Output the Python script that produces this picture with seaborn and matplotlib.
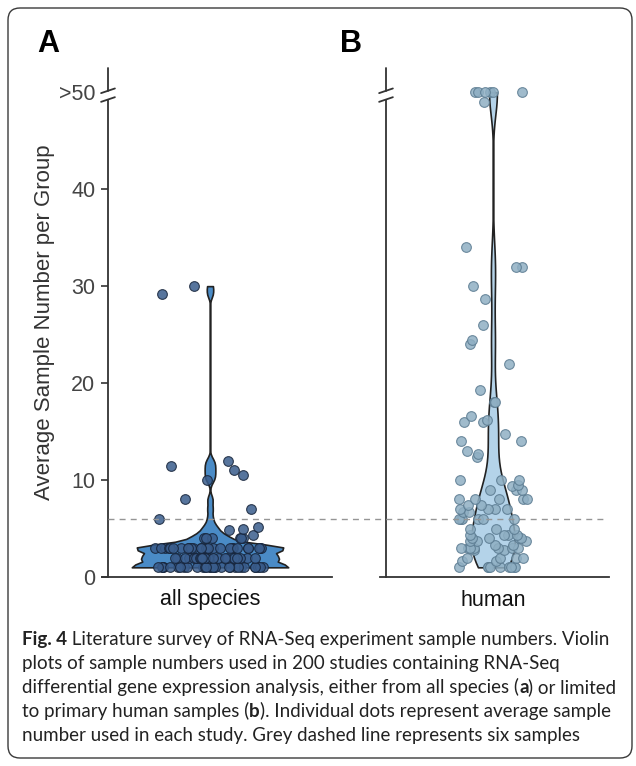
import numpy as np
import pandas as pd
import matplotlib
matplotlib.use("Agg")
import matplotlib.pyplot as plt
import matplotlib.transforms as mtransforms
from matplotlib.patches import FancyBboxPatch
from matplotlib.lines import Line2D
from matplotlib import font_manager
import seaborn as sns

# ---- data (values >50 are shown at the 50 break) ----
groups = ["all species", "human"]

a_values = [1, 2, 3, 4, 4.3, 4.8, 5, 5.2, 6, 7, 8, 10, 10.5, 11, 11.5, 12, 29.2, 30]
a_counts = [30, 24, 28, 6, 1, 1, 1, 1, 1, 1, 1, 1, 1, 1, 1, 1, 1, 1]

b_values = [1, 1.6, 2, 2.8, 3, 3.3, 3.7, 4, 4.3, 5, 6, 6.7, 7, 7.4, 8, 9, 9.4, 9.5,
            10, 12.4, 12.7, 13, 14, 14.8, 16, 16.2, 16.6, 18, 19.3, 22, 24, 24.4,
            26, 28.7, 30, 32, 34, 49, 50]
b_counts = [9, 2, 4, 2, 7, 2, 3, 4, 4, 3, 6, 2, 4, 2, 5, 3, 1, 1,
            3, 1, 1, 1, 2, 1, 2, 1, 1, 2, 1, 1, 1, 1,
            1, 1, 1, 2, 1, 1, 6]

y_ticks = [0, 10, 20, 30, 40, 50]
y_ticklabels = ["0", "10", "20", "30", "40", ">50"]
threshold = 6

violin_colors = ["#4a8bc6", "#b4d3e9"]
dot_colors = ["#3a5d8c", "#8fafc3"]
dot_edges = ["#16243a", "#5b7b91"]
violin_widths = [0.68, 0.19]
bw_adjusts = [0.25, 0.4]
jitters = [0.24, 0.15]

caption_lines = [
    [("Fig. 4", "bold"), (" Literature survey of RNA-Seq experiment sample numbers. Violin", "normal")],
    [("plots of sample numbers used in 200 studies containing RNA-Seq", "normal")],
    [("differential gene expression analysis, either from all species (", "normal"), ("a", "bold"),
     (") or limited", "normal")],
    [("to primary human samples (", "normal"), ("b", "bold"),
     ("). Individual dots represent average sample", "normal")],
    [("number used in each study. Grey dashed line represents six samples", "normal")],
]

df = pd.concat([
    pd.DataFrame({"group": groups[0], "value": np.repeat(a_values, a_counts)}),
    pd.DataFrame({"group": groups[1], "value": np.repeat(b_values, b_counts)}),
], ignore_index=True)

sns.set_theme(style="white")
plt.rcParams['font.family'] = ['Liberation Sans', 'DejaVu Sans']
np.random.seed(7)

W, H = 636, 766
fig = plt.figure(figsize=(W / 100, H / 100), dpi=100)
px = mtransforms.IdentityTransform()

# axes placed in pixels (left, right) measured on the reference
ax_pix = [(102, 332), (380, 609)]
centers = [210, 493]
spine_off = 6
y_top, y_bot = 68, 577
axes = []
for (l, r) in ax_pix:
    ax = fig.add_axes([l / W, (H - y_bot) / H, (r - l) / W, (y_bot - y_top) / H])
    ax.patch.set_visible(False)
    axes.append(ax)

for i, ax in enumerate(axes):
    sub = df[df["group"] == groups[i]]
    sns.violinplot(data=sub, x="group", y="value", ax=ax, color=violin_colors[i],
                   inner=None, cut=0, bw_adjust=bw_adjusts[i], density_norm="width",
                   width=violin_widths[i], linecolor="#222222", linewidth=1.2,
                   saturation=1)
    sns.stripplot(data=sub, x="group", y="value", ax=ax, color=dot_colors[i],
                  edgecolor=dot_edges[i], linewidth=0.8, size=7, alpha=0.85,
                  jitter=jitters[i], zorder=3)
    l, r = ax_pix[i]
    f = (centers[i] - l) / (r - l)
    ax.set_ylim(0, 52.5)
    ax.set_xlim(-f, 1 - f)
    ax.set_xlabel("")
    ax.set_ylabel("")
    for s in ["top", "right"]:
        ax.spines[s].set_visible(False)
    sf = spine_off / (r - l)
    ax.spines["left"].set_position(("axes", sf))
    ax.spines["left"].set_bounds(0, 49.25)
    for s in ["left", "bottom"]:
        ax.spines[s].set_color("#333333")
        ax.spines[s].set_linewidth(1.3)
    ax.tick_params(axis="x", length=0, pad=9, labelsize=15.5, labelcolor="#111111")

    # axis break on the left spine
    tr = mtransforms.blended_transform_factory(ax.transAxes, ax.transData)
    ax.plot([sf, sf], [50.15, 52.5], transform=tr, color="#333333", lw=1.3, clip_on=False)
    for yc in [50.15, 49.25]:
        ax.plot([sf - 0.03, sf + 0.03], [yc - 0.24, yc + 0.24], transform=tr,
                color="#333333", lw=1.3, clip_on=False)

axA, axB = axes
axA.set_yticks(y_ticks)
axA.set_yticklabels(y_ticklabels)
axA.tick_params(axis="y", left=True, length=5, width=1.2, color="#333333",
                labelsize=15.5, labelcolor="#444444", pad=4)
axA.set_ylabel("Average Sample Number per Group", fontsize=16, color="#333333", labelpad=3)
axA.yaxis.get_major_ticks()[-1].tick1line.set_visible(False)
axB.set_yticks(y_ticks)
axB.tick_params(axis="y", left=False, labelleft=False)

# grey dashed line at six samples across both panels
tr = mtransforms.blended_transform_factory(fig.transFigure, axA.transData)
fig.add_artist(Line2D([108 / W, 608 / W], [threshold, threshold], transform=tr,
                      color="#959595", lw=1.0, linestyle=(0, (4.3, 3.7)), zorder=5))

# panel letters
fig.text(37, H - 52, "A", transform=px, fontsize=22, fontweight="bold", color="black")
fig.text(340, H - 52, "B", transform=px, fontsize=22, fontweight="bold", color="black")

# frame round the figure
fig.add_artist(FancyBboxPatch((8, 8), 624, 750, boxstyle="round,pad=0,rounding_size=12",
                              transform=px, fill=False, ec="#3a3a3a", lw=1.0))

# caption, bold parts drawn piece by piece
names = {f.name for f in font_manager.fontManager.ttflist}
cap_family = next((f for f in ["Liberation Sans Narrow", "Lato", "Open Sans"] if f in names),
                  "DejaVu Sans")
renderer = fig.canvas.get_renderer()
probe = fig.text(0, 0, "".join(t for t, _ in caption_lines[0]), transform=px,
                 fontsize=12, family=cap_family)
cap_size = 12 * 586 / probe.get_window_extent(renderer).width
probe.remove()

baselines = [121, 97, 73, 49, 25]
for pieces, yb in zip(caption_lines, baselines):
    x = 22
    for text, weight in pieces:
        t = fig.text(x, yb, text, transform=px, fontsize=cap_size, fontweight=weight,
                     family=cap_family, color="#222222", va="baseline")
        x += t.get_window_extent(renderer).width

fig.savefig("out.png", dpi=100)
